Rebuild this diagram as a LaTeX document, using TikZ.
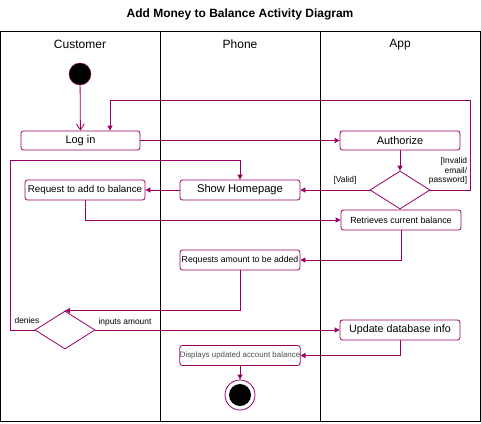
\documentclass[tikz,border=0pt]{standalone}
\usepackage{fontspec}
\setmainfont{Liberation Sans}
\usetikzlibrary{arrows.meta,shapes.geometric}
\definecolor{pl}{RGB}{153,0,102}
\begin{document}
\begin{tikzpicture}[x=1pt,y=-1pt,
  act/.style={draw=pl,line width=0.8pt,rounded corners=2.5pt,fill=white,inner sep=0pt,font=\fontsize{9}{10}\selectfont},
  dec/.style={draw=pl,line width=0.8pt,diamond,fill=white,inner sep=0pt,minimum width=60pt,minimum height=38pt,aspect=1.5},
  flow/.style={draw=pl,line width=0.8pt,-{Triangle[length=5pt,width=5pt]}},
  lbl/.style={font=\fontsize{8.4}{9.5}\selectfont,inner sep=0pt},
  lane/.style={draw=black,line width=0.8pt}]
\useasboundingbox (0,0) rectangle (481,423);
\node[font=\bfseries\fontsize{12}{14}\selectfont] (title) at (240,14.5) {Add Money to Balance Activity Diagram};
\draw[lane] (0.5,31) rectangle (480,421);
\draw[lane] (160,31) -- (160,421);
\draw[lane] (320,31) -- (320,421);
\node[font=\fontsize{12}{14}\selectfont] (h1) at (80,44.5) {Customer};
\node[font=\fontsize{12}{14}\selectfont] (h2) at (240,44.5) {Phone};
\node[font=\fontsize{12}{14}\selectfont] (h3) at (400,44.5) {App};
% start
\node[circle,draw=pl,fill=black,minimum size=22pt,inner sep=0pt] (start) at (80,74) {};
\node[act,minimum width=119pt,minimum height=19pt,font=\fontsize{11}{12}\selectfont] (login) at (80.5,140.5) {Log in};
\node[act,minimum width=120pt,minimum height=19pt,font=\fontsize{11}{12}\selectfont] (auth) at (400,140.5) {Authorize};
\node[dec] (d1) at (400,190) {};
\node[act,minimum width=120pt,minimum height=20pt,font=\fontsize{11.2}{12}\selectfont] (home) at (240,190) {Show Homepage};
\node[act,minimum width=120pt,minimum height=20pt,font=\fontsize{9.8}{11}\selectfont] (req) at (85,190) {Request to add to balance};
\node[act,minimum width=120pt,minimum height=20pt,font=\fontsize{8.9}{10}\selectfont] (ret) at (401,220) {Retrieves current balance};
\node[act,minimum width=120pt,minimum height=20pt,font=\fontsize{8.7}{10}\selectfont] (amt) at (240,260) {Requests amount to be added};
\node[dec] (d2) at (65,330) {};
\node[act,minimum width=120pt,minimum height=20pt,font=\fontsize{10.7}{12}\selectfont] (upd) at (400,330) {Update database info};
\node[act,minimum width=120pt,minimum height=20pt,font=\fontsize{7.9}{9}\selectfont,text=black!70] (disp) at (240,355.5) {Displays updated account balance};
\node[circle,draw=pl,fill=white,minimum size=30pt,inner sep=0pt,line width=0.8pt] (end) at (240,395) {};
\node[circle,fill=black,minimum size=22pt,inner sep=0pt] (endin) at (240,395) {};
\coordinate (c1) at (470,190);
\coordinate (c2) at (470,100);
\coordinate (c3) at (110,100);
\coordinate (c4) at (10,330);
\coordinate (c5) at (10,160);
\coordinate (c6) at (240,160);
% edges
\draw[draw=pl,line width=0.8pt,-{Straight Barb[length=6pt,width=8pt]}] (start) -- (login);
\draw[flow] (login) -- (auth);
\draw[flow] (auth) -- (d1);
\draw[flow] (d1.east) -- (c1) -- (c2) -- (c3) -- (login.north -| c3);
\draw[flow] (d1.west) -- (home);
\draw[flow] (home) -- (req);
\draw[flow] (req.south) |- (ret.west);
\draw[flow] (ret.south) |- (amt.east);
\draw[flow] (amt.south) |- (d2.north);
\draw[flow] (d2.west) -- (c4) -- (c5) -- (c6) -- (home.north);
\draw[flow] (d2.east) -- (upd.west);
\draw[flow] (upd.south) |- (disp.east);
\draw[flow] (disp.south) -- (end.north);
% labels
\node[lbl,align=right] (l1) at (448,171) {[Invalid\\email/\\password]};
\node[lbl] (l2) at (345,180) {[Valid]};
\node[lbl] (l3) at (27,320) {denies};
\node[lbl] (l4) at (125,322.5) {inputs amount};
\end{tikzpicture}
\end{document}
